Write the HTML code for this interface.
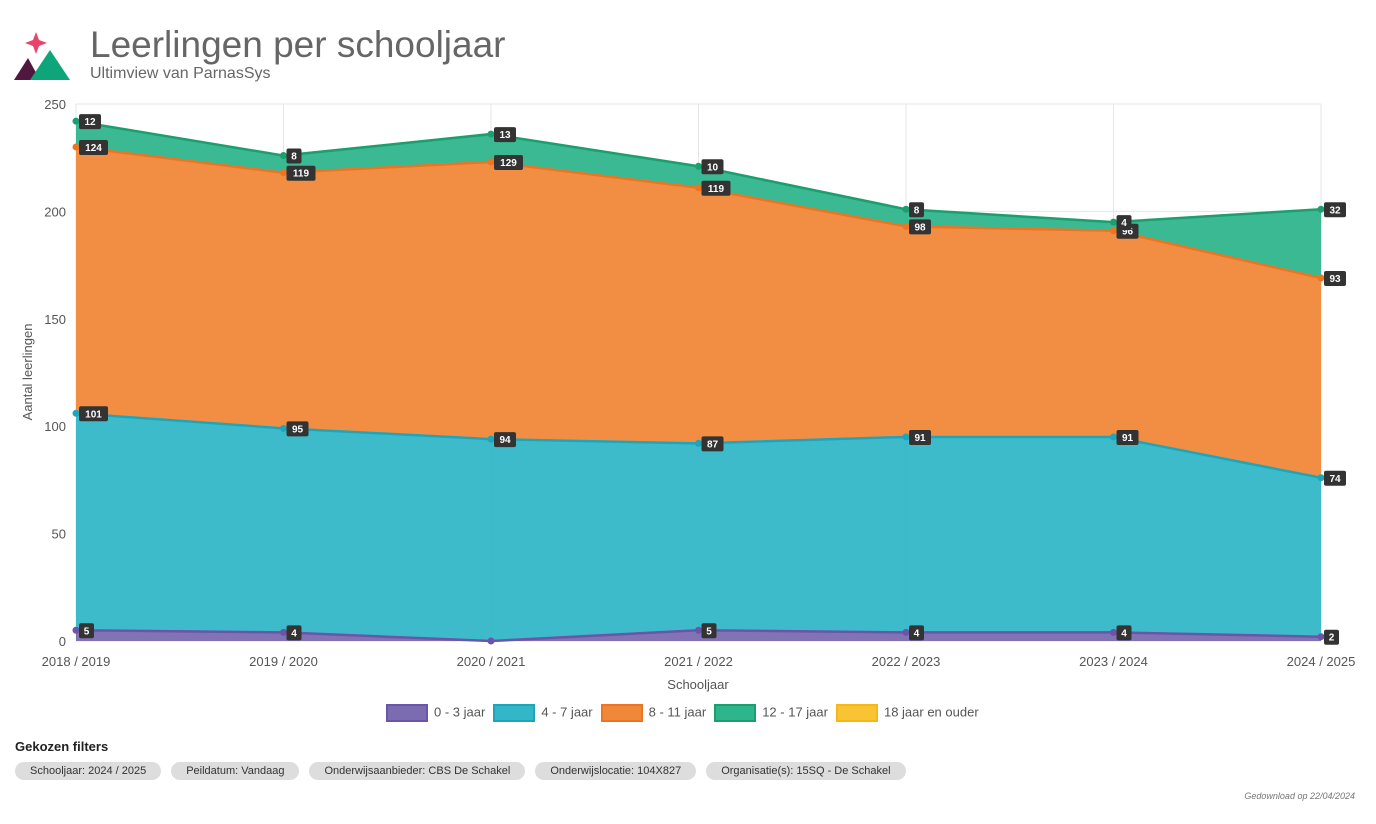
<!DOCTYPE html>
<html><head><meta charset="utf-8"><style>
body{margin:0;width:1376px;height:824px;background:#fff;font-family:"Liberation Sans",sans-serif;overflow:hidden;position:relative}
.t{position:absolute}
.chip{display:inline-block;background:#ddd;border-radius:10px;padding:3px 15px;font-size:11px;color:#333;margin-right:10px}
</style></head><body>
<svg class="t" style="left:14px;top:30px" width="58" height="52">
<path d="M22 2 L25 10 L33 13 L25 16 L22 24 L19 16 L11 13 L19 10Z" fill="#e8436b"/>
<path d="M0 50 L14 28 L26 50Z" fill="#52173e"/>
<path d="M16 50 L36 20 L56 50Z" fill="#0ea57b"/>
</svg>
<div class="t" style="left:90px;top:24px;font-size:37px;color:#666">Leerlingen per schooljaar</div>
<div class="t" style="left:90px;top:65px;font-size:16px;color:#666">Ultimview van ParnasSys</div>
<svg id="c" class="t" style="left:0;top:0" width="1376" height="700"></svg>
<div class="t" style="left:386px;top:704px;font-size:13px;color:#555;display:flex;gap:8px;align-items:center">
<span><i style="display:inline-block;width:38px;height:14px;background:#7b6bb0;border:2px solid #6a55a8;vertical-align:middle;margin-right:6px"></i>0 - 3 jaar</span>
<span><i style="display:inline-block;width:38px;height:14px;background:#33b7c8;border:2px solid #1fa5ba;vertical-align:middle;margin-right:6px"></i>4 - 7 jaar</span>
<span><i style="display:inline-block;width:38px;height:14px;background:#f0883a;border:2px solid #ef7422;vertical-align:middle;margin-right:6px"></i>8 - 11 jaar</span>
<span><i style="display:inline-block;width:38px;height:14px;background:#2fb58c;border:2px solid #1c9e6e;vertical-align:middle;margin-right:6px"></i>12 - 17 jaar</span>
<span><i style="display:inline-block;width:38px;height:14px;background:#f9c433;border:2px solid #f5b818;vertical-align:middle;margin-right:6px"></i>18 jaar en ouder</span>
</div>
<div class="t" style="left:15px;top:739px;font-size:13px;font-weight:bold;color:#222">Gekozen filters</div>
<div class="t" style="left:15px;top:761px">
<span class="chip">Schooljaar: 2024 / 2025</span><span class="chip">Peildatum: Vandaag</span><span class="chip">Onderwijsaanbieder: CBS De Schakel</span><span class="chip">Onderwijslocatie: 104X827</span><span class="chip">Organisatie(s): 15SQ - De Schakel</span>
</div>
<div class="t" style="right:21px;top:791px;font-size:9px;font-style:italic;color:#777">Gedownload op 22/04/2024</div>
<script>
const categories=["2018 / 2019","2019 / 2020","2020 / 2021","2021 / 2022","2022 / 2023","2023 / 2024","2024 / 2025"];
const s0_3=[5,4,0,5,4,4,2];
const s4_7=[101,95,94,87,91,91,74];
const s8_11=[124,119,129,119,98,96,93];
const s12_17=[12,8,13,10,8,4,32];
const s18=[0,0,0,0,0,0,0];
const yTicks=[0,50,100,150,200,250];
const NS="http://www.w3.org/2000/svg",svg=document.getElementById('c');
const X0=76,X1=1321,Y0=641,Y1=104;
const x=i=>X0+i*(X1-X0)/(categories.length-1);
const y=v=>Y0-v*(Y0-Y1)/250;
function mk(t,a,p){const e=document.createElementNS(NS,t);for(const k in a)e.setAttribute(k,a[k]);(p||svg).appendChild(e);return e;}
yTicks.forEach(v=>{const l=mk('line',{x1:X0,x2:X1,y1:y(v),y2:y(v),stroke:'#e6e6e6'});


const t=mk('text',{x:66,y:y(v)+5,'text-anchor':'end','font-size':13,fill:'#555'});t.textContent=v;

});
categories.forEach((c,i)=>{const l=mk('line',{x1:x(i),x2:x(i),y1:Y1,y2:Y0,stroke:'#e6e6e6'});


const t=mk('text',{x:x(i),y:666,'text-anchor':'middle','font-size':13,fill:'#555'});t.textContent=c;

});
let t=mk('text',{x:698,y:689,'text-anchor':'middle','font-size':13,fill:'#555'});t.textContent='Schooljaar';


t=mk('text',{x:32,y:372,'text-anchor':'middle','font-size':13,fill:'#555',transform:'rotate(-90 32 372)'});t.textContent='Aantal leerlingen';


const series=[[s0_3,'#7b6bb0','#6a55a8','area-0-3'],[s4_7,'#33b7c8','#1fa5ba','area-4-7'],[s8_11,'#f0883a','#ef7422','area-8-11'],[s12_17,'#2fb58c','#1c9e6e','area-12-17'],[s18,'#f9c433','#f5b818','area-18-plus']];
let base=categories.map(()=>0);const tops=[];
series.forEach(([d,f,s,n])=>{const top=base.map((b,i)=>b+d[i]);
const up=top.map((v,i)=>x(i)+','+y(v)),dn=base.map((v,i)=>x(i)+','+y(v)).reverse();
const a=mk('polygon',{points:up.concat(dn).join(' '),fill:f,'fill-opacity':0.95});


tops.push([top,d,s,n]);base=top;});
tops.forEach(([top,d,s,n])=>{if(n==='area-18-plus')return;
const l=mk('polyline',{points:top.map((v,i)=>x(i)+','+y(v)).join(' '),fill:'none',stroke:s,'stroke-width':2.5});


top.forEach((v,i)=>{const c=mk('circle',{cx:x(i),cy:y(v),r:3.5,fill:s});


if(d[i]>0){const g=mk('g',{});


const txt=String(d[i]),w=txt.length*7+8;
mk('rect',{x:x(i)+3,y:y(v)-7,width:w,height:15,rx:2,fill:'#333'},g);
const tt=mk('text',{x:x(i)+3+w/2,y:y(v)+4,'text-anchor':'middle','font-size':10,'font-weight':'bold',fill:'#fff'},g);tt.textContent=txt;}});});
</script>
</body></html>
